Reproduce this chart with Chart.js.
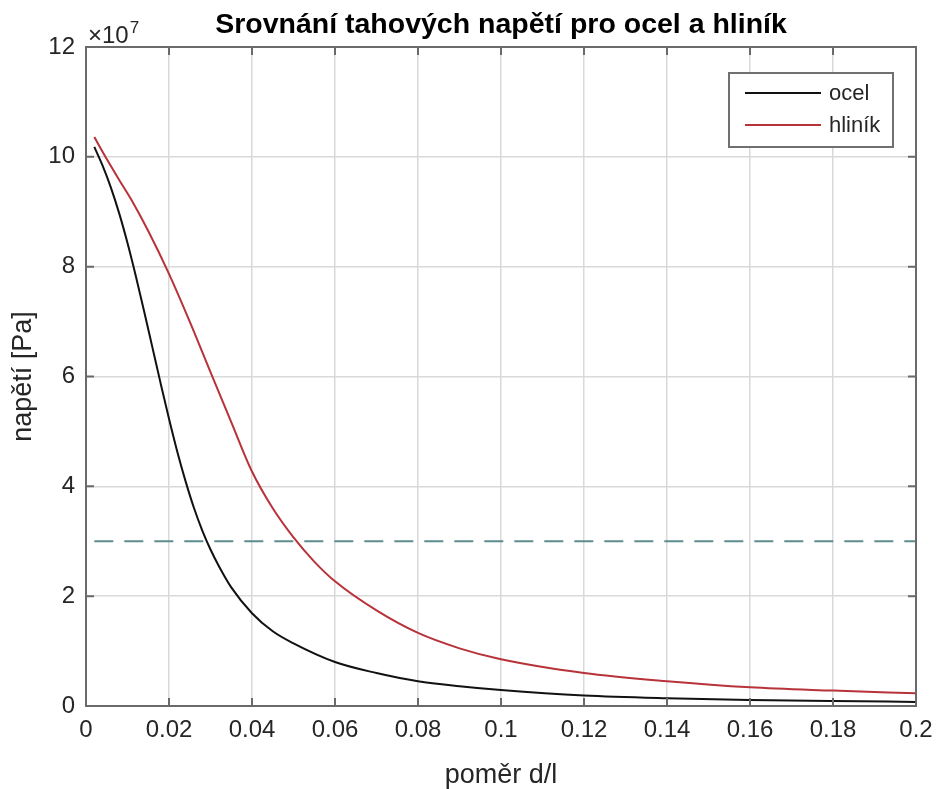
<!DOCTYPE html>
<html>
<head>
<meta charset="utf-8">
<title>Srovnání tahových napětí</title>
<script src="https://cdn.jsdelivr.net/npm/chart.js@4.4.1/dist/chart.umd.min.js"></script>
<style>
  html, body { margin: 0; padding: 0; background: #fff; }
  canvas { display: block; }
</style>
</head>
<body>
<canvas id="graf" width="937" height="789"></canvas>
<script>
// poměr d/l a napětí v jednotkách 10^7 Pa
const ocelX = [0.002, 0.004, 0.006, 0.008, 0.010, 0.012, 0.014, 0.016, 0.018, 0.020, 0.022, 0.024, 0.026, 0.028,
               0.030, 0.032, 0.035, 0.040, 0.045, 0.050, 0.060, 0.070, 0.080, 0.090, 0.100, 0.120, 0.140, 0.160,
               0.180, 0.200];
const ocelY = [10.18, 9.84, 9.44, 8.97, 8.43, 7.83, 7.19, 6.53, 5.87, 5.23, 4.63, 4.09, 3.61, 3.20,
               2.85, 2.55, 2.16, 1.69, 1.36, 1.14, 0.80, 0.60, 0.45, 0.36, 0.29, 0.19, 0.14, 0.11,
               0.09, 0.075];

const hlinikX = [0.002, 0.005, 0.008, 0.011, 0.015, 0.020, 0.025, 0.030, 0.035, 0.040, 0.045, 0.050,
                 0.055, 0.060, 0.070, 0.080, 0.090, 0.100, 0.120, 0.140, 0.160, 0.180, 0.200];
const hlinikY = [10.36, 9.96, 9.58, 9.21, 8.65, 7.87, 7.00, 6.08, 5.17, 4.27, 3.60, 3.07,
                 2.63, 2.27, 1.74, 1.33, 1.05, 0.85, 0.60, 0.45, 0.34, 0.28, 0.23];

// dovolené napětí (přerušovaná čára)
const mezX = [0.002, 0.2];
const mezY = [3, 3];

const xTicks = [0, 0.02, 0.04, 0.06, 0.08, 0.1, 0.12, 0.14, 0.16, 0.18, 0.2];
const yTicks = [0, 2, 4, 6, 8, 10, 12];

const FONT = '"Liberation Sans", Arial, Helvetica, sans-serif';
const AXIS_COLOR = '#6a6a6a';
const TEXT_COLOR = '#262626';

function body(xs, ys) {
    return xs.map((x, i) => ({ x: x, y: ys[i] }));
}

// rámeček os, tiky dovnitř, exponent a legenda
const axesBox = {
    id: 'axesBox',
    afterDraw(chart) {
        const ctx = chart.ctx;
        const a = chart.chartArea;
        const sx = chart.scales.x;
        const sy = chart.scales.y;
        const tick = 8;

        ctx.save();
        ctx.strokeStyle = AXIS_COLOR;
        ctx.lineWidth = 2;
        ctx.strokeRect(a.left, a.top, a.right - a.left, a.bottom - a.top);

        ctx.beginPath();
        xTicks.forEach(v => {
            const px = sx.getPixelForValue(v);
            ctx.moveTo(px, a.bottom); ctx.lineTo(px, a.bottom - tick);
            ctx.moveTo(px, a.top); ctx.lineTo(px, a.top + tick);
        });
        yTicks.forEach(v => {
            const py = sy.getPixelForValue(v);
            ctx.moveTo(a.left, py); ctx.lineTo(a.left + tick, py);
            ctx.moveTo(a.right, py); ctx.lineTo(a.right - tick, py);
        });
        ctx.stroke();

        // ×10^7 nad osou y
        ctx.fillStyle = TEXT_COLOR;
        ctx.textBaseline = 'alphabetic';
        ctx.textAlign = 'left';
        ctx.font = '24px ' + FONT;
        ctx.fillText('\u00d710', a.left + 2, a.top - 4);
        const w = ctx.measureText('\u00d710').width;
        ctx.font = '17px ' + FONT;
        ctx.fillText('7', a.left + 3 + w, a.top - 14);

        // legenda
        const items = chart.data.datasets.filter(d => d.vLegende);
        const lx = 729, ly = 73, lw = 164, lh = 74;
        ctx.fillStyle = '#fff';
        ctx.fillRect(lx, ly, lw, lh);
        ctx.strokeStyle = '#707070';
        ctx.lineWidth = 2;
        ctx.strokeRect(lx, ly, lw, lh);
        ctx.font = '22px ' + FONT;
        ctx.textBaseline = 'middle';
        items.forEach((d, i) => {
            const y = ly + 20 + i * 32;
            ctx.strokeStyle = d.borderColor;
            ctx.lineWidth = d.borderWidth;
            ctx.beginPath();
            ctx.moveTo(lx + 16, y);
            ctx.lineTo(lx + 92, y);
            ctx.stroke();
            ctx.fillStyle = TEXT_COLOR;
            ctx.fillText(d.label, lx + 100, y + 1);
        });
        ctx.restore();
    }
};

new Chart(document.getElementById('graf'), {
    type: 'line',
    data: {
        datasets: [
            {
                label: 'ocel',
                data: body(ocelX, ocelY),
                borderColor: '#111111',
                borderWidth: 2,
                pointRadius: 0,
                cubicInterpolationMode: 'monotone',
                vLegende: true
            },
            {
                label: 'hliník',
                data: body(hlinikX, hlinikY),
                borderColor: '#b8323a',
                borderWidth: 2,
                pointRadius: 0,
                cubicInterpolationMode: 'monotone',
                vLegende: true
            },
            {
                label: 'mez',
                data: body(mezX, mezY),
                borderColor: '#5e8c8c',
                borderWidth: 2,
                borderDash: [19, 11],
                pointRadius: 0
            }
        ]
    },
    options: {
        responsive: false,
        animation: false,
        devicePixelRatio: 1,
        layout: { padding: { left: 0, right: 21, top: 0, bottom: 0 } },
        plugins: {
            legend: { display: false },
            tooltip: { enabled: false },
            title: {
                display: true,
                fullSize: false,
                text: 'Srovnání tahových napětí pro ocel a hliník',
                color: '#000',
                font: { family: FONT, size: 28.5, weight: 'bold', lineHeight: 1.2 },
                padding: { top: 8, bottom: 4.8 }
            }
        },
        scales: {
            x: {
                type: 'linear',
                min: 0,
                max: 0.2,
                afterFit: s => { s.height = 83; },
                afterBuildTicks: s => { s.ticks = xTicks.map(v => ({ value: v })); },
                ticks: {
                    color: TEXT_COLOR,
                    font: { family: FONT, size: 24, lineHeight: 1.9 },
                    padding: 2,
                    maxRotation: 0,
                    autoSkip: false,
                    callback: v => String(Number(v.toFixed(2)))
                },
                grid: { color: '#d9d9d9', lineWidth: 1.5, drawTicks: false },
                border: { display: false },
                title: {
                    display: true,
                    text: 'poměr d/l',
                    color: TEXT_COLOR,
                    font: { family: FONT, size: 27, lineHeight: 1 },
                    padding: { top: 0, bottom: 0 }
                }
            },
            y: {
                min: 0,
                max: 12,
                afterFit: s => { s.width = 86; },
                afterBuildTicks: s => { s.ticks = yTicks.map(v => ({ value: v })); },
                ticks: {
                    color: TEXT_COLOR,
                    font: { family: FONT, size: 24 },
                    padding: 11
                },
                grid: { color: '#d9d9d9', lineWidth: 1.5, drawTicks: false },
                border: { display: false },
                title: {
                    display: true,
                    text: 'napětí [Pa]',
                    color: TEXT_COLOR,
                    font: { family: FONT, size: 27, lineHeight: 1 },
                    padding: { top: 10, bottom: 0 }
                }
            }
        }
    },
    plugins: [axesBox]
});
</script>
</body>
</html>
